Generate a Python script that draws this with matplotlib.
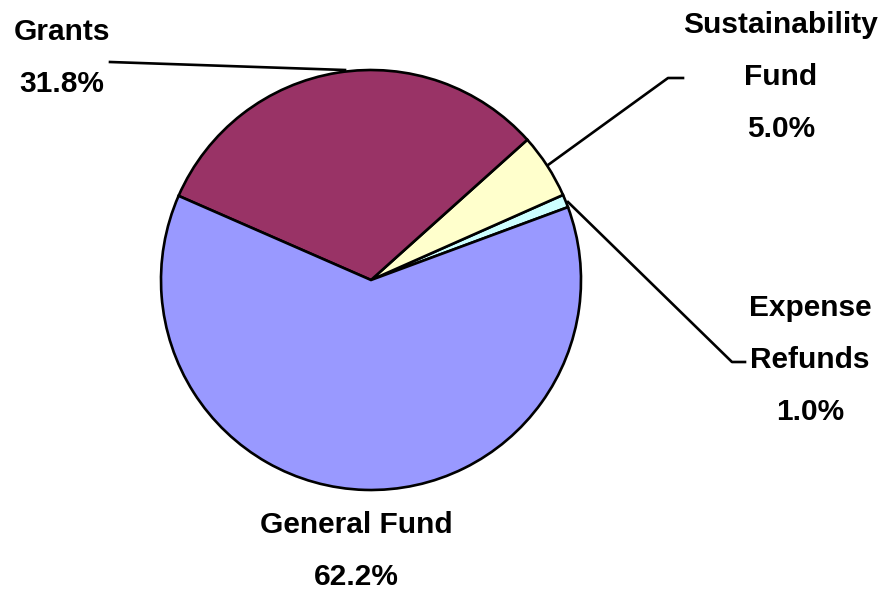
import matplotlib
matplotlib.use("Agg")
import matplotlib.pyplot as plt

# slices, counterclockwise from the start angle
names = ["Expense Refunds", "Sustainability Fund", "Grants", "General Fund"]
shares = [1.0, 5.0, 31.8, 62.2]
colors = ["#CCFFFF", "#FFFFCC", "#993366", "#9999FF"]

# label text, one line per entry
label_lines = {
    "Grants": ["Grants", "31.8%"],
    "Sustainability Fund": ["Sustainability", "Fund", "5.0%"],
    "Expense Refunds": ["Expense", "Refunds", "1.0%"],
    "General Fund": ["General Fund", "62.2%"],
}

W, H = 887, 595
fig = plt.figure(figsize=(W / 100, H / 100), dpi=100)
ax = fig.add_axes([0, 0, 1, 1])

def py(y):
    # pixel row (from top) to data y
    return H - y

cx, cy, r = 371, 280, 210
ax.pie(shares, colors=colors, startangle=20.3, counterclock=True,
       center=(cx, py(cy)), radius=r, frame=True,
       wedgeprops=dict(edgecolor="black", linewidth=1.9))
ax.set_xlim(0, W)
ax.set_ylim(0, H)
ax.axis("off")

font = dict(family=["Liberation Sans Narrow", "Liberation Sans", "DejaVu Sans"],
            fontsize=21.5, fontweight="bold", ha="center", va="center")

# label anchor (x center, first line y), line step in pixels
label_pos = {
    "Grants": (62, 32),
    "Sustainability Fund": (781, 25),
    "Expense Refunds": (810, 308),
    "General Fund": (356, 525),
}
step = 52
for key, (x, y0) in label_pos.items():
    for i, line in enumerate(label_lines[key]):
        ax.text(x, py(y0 + i * step), line, **font)

# leader lines
lw = 1.9
ax.plot([110, 345], [py(62), py(70)], color="black", lw=lw)
ax.plot([683, 668, 548], [py(78), py(78), py(165)], color="black", lw=lw)
ax.plot([568, 732, 745], [py(202), py(362), py(362)], color="black", lw=lw)

fig.savefig("out.png", dpi=100)
